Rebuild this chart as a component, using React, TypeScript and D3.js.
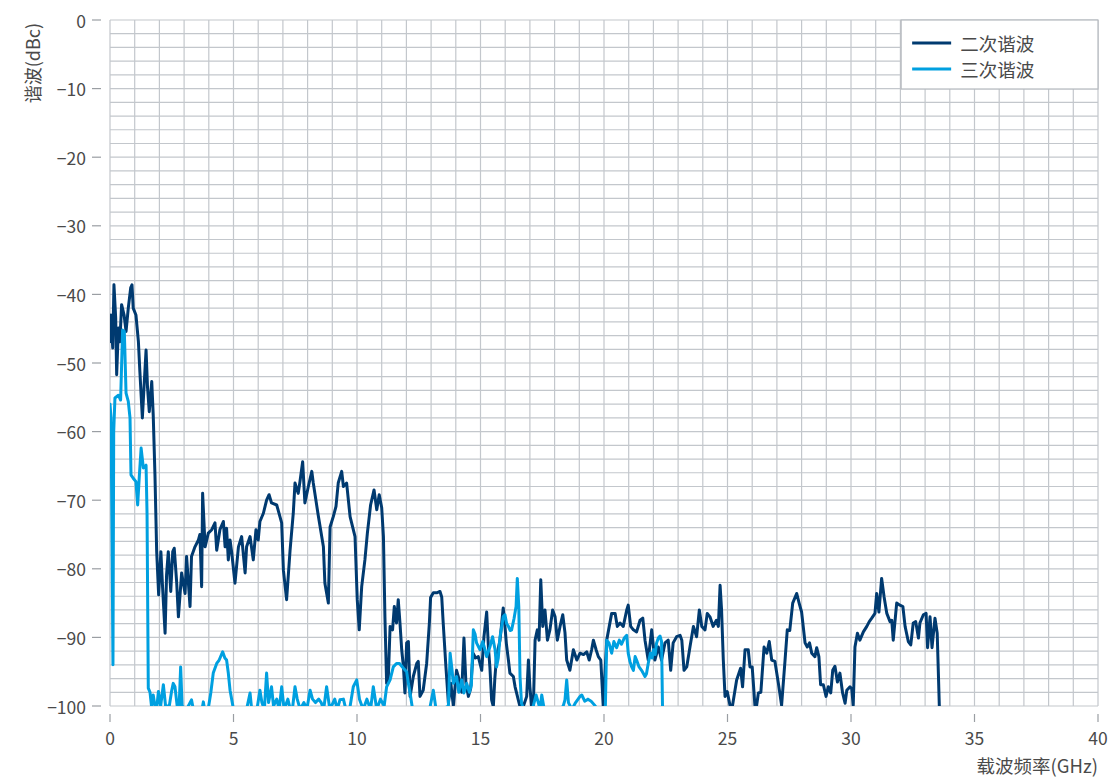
import React from "react";
import * as d3 from "d3";

// Second harmonic (二次谐波): carrier frequency in GHz and level in dBc
const secondFreq = [
  0.0, 0.04, 0.11, 0.16, 0.23, 0.27, 0.34, 0.4, 0.47, 0.57, 0.65, 0.74, 0.84, 0.89, 0.94, 1.05, 1.15, 1.21, 1.31, 1.39,
  1.46, 1.52, 1.59, 1.69, 1.75, 1.82, 1.89, 1.97, 2.06, 2.13, 2.23, 2.29, 2.36, 2.46, 2.54, 2.6, 2.7, 2.77, 2.9, 3.04,
  3.1, 3.24, 3.3, 3.44, 3.58, 3.64, 3.71, 3.75, 3.85, 3.98, 4.12, 4.25, 4.32, 4.45, 4.59, 4.66, 4.72, 4.79, 4.86, 4.93,
  5.06, 5.2, 5.33, 5.47, 5.53, 5.67, 5.8, 5.91, 6.0, 6.07, 6.21, 6.34, 6.44, 6.54, 6.75, 6.88, 6.95, 7.02, 7.15, 7.29,
  7.42, 7.49, 7.62, 7.69, 7.8, 7.89, 8.03, 8.17, 8.23, 8.43, 8.64, 8.7, 8.84, 8.91, 9.04, 9.15, 9.24, 9.38, 9.45, 9.58,
  9.72, 9.92, 10.01, 10.09, 10.19, 10.32, 10.42, 10.55, 10.69, 10.8, 10.9, 11.0, 11.07, 11.13, 11.2, 11.27, 11.34, 11.44, 11.51, 11.6,
  11.67, 11.74, 11.81, 11.88, 11.94, 12.01, 12.08, 12.15, 12.28, 12.42, 12.48, 12.55, 12.68, 12.82, 12.93, 12.98, 13.09, 13.23, 13.36, 13.43,
  13.49, 13.6, 13.7, 13.8, 13.9, 14.03, 14.14, 14.24, 14.33, 14.41, 14.51, 14.6, 14.7, 14.8, 14.91, 15.05, 15.14, 15.25, 15.32, 15.38,
  15.45, 15.52, 15.58, 15.65, 15.79, 15.92, 15.99, 16.05, 16.13, 16.19, 16.33, 16.4, 16.53, 16.6, 16.73, 16.87, 16.94, 17.0, 17.07, 17.14,
  17.21, 17.3, 17.37, 17.44, 17.52, 17.61, 17.71, 17.81, 17.92, 18.02, 18.11, 18.22, 18.33, 18.42, 18.49, 18.62, 18.76, 18.9, 19.03, 19.17,
  19.3, 19.4, 19.5, 19.57, 19.68, 19.77, 19.87, 19.97, 20.11, 20.31, 20.45, 20.54, 20.65, 20.78, 20.92, 20.98, 21.08, 21.19, 21.32, 21.46,
  21.57, 21.66, 21.79, 21.93, 22.06, 22.2, 22.33, 22.47, 22.6, 22.7, 22.8, 22.94, 23.08, 23.15, 23.24, 23.35, 23.48, 23.62, 23.75, 23.86,
  23.96, 24.09, 24.18, 24.29, 24.42, 24.55, 24.63, 24.7, 24.76, 24.83, 24.9, 24.99, 25.1, 25.2, 25.37, 25.53, 25.61, 25.71, 25.84, 25.91,
  26.0, 26.11, 26.18, 26.25, 26.35, 26.48, 26.59, 26.69, 26.79, 26.92, 27.06, 27.19, 27.33, 27.42, 27.52, 27.64, 27.8, 27.9, 28.0, 28.14,
  28.23, 28.32, 28.41, 28.54, 28.61, 28.7, 28.77, 28.88, 28.99, 29.08, 29.18, 29.26, 29.35, 29.45, 29.55, 29.66, 29.76, 29.83, 29.96, 30.03,
  30.09, 30.16, 30.26, 30.36, 30.5, 30.64, 30.74, 30.84, 30.97, 31.04, 31.13, 31.24, 31.34, 31.45, 31.58, 31.65, 31.71, 31.85, 31.98, 32.1,
  32.19, 32.32, 32.42, 32.52, 32.62, 32.73, 32.79, 32.93, 33.04, 33.1, 33.2, 33.28, 33.4, 33.49, 33.58,
];
const secondDb = [
  -46.9, -43, -47.8, -38.6, -43.4, -51.7, -44.9, -46.9, -41.5, -43, -45.4, -42, -39, -38.6, -42, -43, -46.9, -51.3, -58, -52.7,
  -48.1, -53.6, -57.1, -52.7, -57.6, -66.3, -77.5, -83.8, -77.5, -82.8, -89.4, -80.9, -77.5, -83.3, -77.5, -77, -82, -87, -80.6, -83.6,
  -78.2, -85.5, -78.2, -76.8, -75.8, -75, -82.6, -69, -76.8, -74.8, -74.3, -73.3, -77.3, -74.3, -73.1, -76.8, -74.1, -78.7, -75.8, -77.7,
  -82.1, -76.8, -75.3, -80.6, -76.8, -75.3, -78.7, -74.3, -75.8, -73.1, -71.9, -70, -69.2, -70.4, -70.7, -72.4, -73.3, -80.2, -84.5, -77.3,
  -71.9, -67.5, -69, -67.3, -64.4, -70.4, -68, -65.8, -67.5, -72.2, -76.8, -82.1, -85, -73.9, -72.4, -70.9, -67.5, -65.8, -68, -67.5,
  -72.4, -75.3, -84.5, -88.9, -82.6, -78.7, -74.8, -70.7, -68.5, -71.4, -69.2, -71.1, -75.3, -87, -96.7, -95.7, -88.4, -88.9, -85.5, -87.9,
  -84.5, -87.9, -91.8, -94.3, -98.1, -90.8, -90.6, -98.6, -95.7, -93.8, -93.5, -98.6, -97.7, -93.8, -87.9, -84.2, -83.5, -83.5, -83.3, -84.1,
  -87.9, -94.3, -99.6, -96.7, -100, -94.8, -96.2, -98, -90.1, -96.7, -98.6, -97.5, -92.3, -93, -92.8, -94.8, -89.9, -86.3, -91.4, -94.3,
  -99.1, -100.1, -96, -92.8, -90.4, -85.7, -88.4, -91, -93.3, -95.2, -95.7, -97.2, -99.1, -100.1, -100.1, -98.6, -93.3, -97.2, -100.1, -100.1,
  -90.4, -88.9, -90.4, -81.6, -88.4, -86, -90.4, -88.9, -86, -87, -90.4, -88.4, -86.7, -89.3, -93.3, -94.8, -91.8, -93.3, -92.3, -92.5,
  -92.1, -93.3, -91.8, -90.4, -91.8, -92.8, -93.3, -100.1, -90.4, -86.5, -86.5, -88.4, -87.9, -88.4, -86, -85.3, -88.4, -88.9, -89.2, -87.5,
  -87.2, -90.4, -93.3, -88.9, -93.3, -91.4, -93.3, -90.8, -90.4, -94.8, -90.8, -89.9, -89.7, -90.4, -94.8, -94.3, -91.4, -88.4, -89.9, -86,
  -88.4, -88.9, -86.5, -87, -88.4, -87.5, -88.4, -82.4, -86, -93.3, -98.6, -97.9, -99.9, -100, -96.2, -94.5, -97.2, -91.8, -91.8, -94.3,
  -94.3, -99.9, -99.9, -98.1, -98, -91.4, -92.3, -90.6, -93.3, -93.5, -96.7, -99.9, -93.3, -88.9, -89, -85, -83.6, -85, -86.3, -90.8,
  -91.4, -90.8, -92.3, -92.8, -91.5, -92.8, -96.9, -96.9, -98.6, -97.2, -98.1, -94.8, -94.2, -96.5, -95.2, -98.1, -99.6, -97.7, -97.2, -97.5,
  -99.9, -91.4, -89.4, -90.4, -89.2, -88.4, -87.7, -87.2, -86.5, -83.6, -86.3, -81.4, -84.1, -86.5, -87.7, -87.5, -90.4, -85, -85.3, -85.5,
  -88.4, -90.6, -91.1, -87.9, -87.7, -90.1, -87.9, -86.7, -86.5, -91.5, -87, -91.5, -87.2, -89.4, -100.5,
];

// Third harmonic (三次谐波)
const thirdFreq = [
  0.0, 0.04, 0.08, 0.12, 0.15, 0.2, 0.34, 0.43, 0.51, 0.58, 0.65, 0.74, 0.81, 0.85, 0.94, 1.05, 1.12, 1.19, 1.26, 1.35,
  1.46, 1.5, 1.55, 1.62, 1.68, 1.75, 1.82, 1.9, 1.96, 2.05, 2.16, 2.25, 2.4, 2.5, 2.56, 2.63, 2.72, 2.8, 2.86, 2.92,
  3.1, 3.3, 3.4, 3.7, 3.78, 3.85, 3.95, 4.08, 4.18, 4.32, 4.42, 4.56, 4.65, 4.72, 4.79, 4.86, 4.99, 5.2, 5.5, 5.67,
  5.75, 5.95, 6.07, 6.15, 6.25, 6.34, 6.42, 6.54, 6.62, 6.75, 6.85, 6.95, 7.05, 7.2, 7.3, 7.4, 7.49, 7.58, 7.7, 7.85,
  7.97, 8.1, 8.2, 8.32, 8.45, 8.55, 8.65, 8.77, 8.9, 9.1, 9.2, 9.31, 9.45, 9.55, 9.7, 9.85, 9.99, 10.1, 10.25, 10.4,
  10.55, 10.66, 10.8, 10.95, 11.1, 11.2, 11.34, 11.47, 11.6, 11.72, 11.88, 12.01, 12.08, 12.15, 12.25, 12.4, 12.6, 12.8, 12.95, 13.09,
  13.2, 13.35, 13.55, 13.7, 13.77, 13.84, 13.9, 14.03, 14.12, 14.24, 14.33, 14.44, 14.55, 14.63, 14.71, 14.78, 14.84, 14.98, 15.09, 15.18,
  15.25, 15.38, 15.49, 15.59, 15.65, 15.72, 15.79, 15.86, 15.92, 15.99, 16.06, 16.13, 16.2, 16.26, 16.36, 16.44, 16.49, 16.55, 16.6, 16.66,
  16.8, 16.95, 17.1, 17.25, 17.34, 17.41, 17.48, 17.58, 17.8, 18.05, 18.2, 18.35, 18.42, 18.49, 18.56, 18.7, 18.85, 19.03, 19.1, 19.22,
  19.35, 19.48, 19.6, 19.75, 19.95, 20.05, 20.11, 20.2, 20.31, 20.4, 20.51, 20.62, 20.71, 20.82, 20.92, 20.98, 21.05, 21.12, 21.19, 21.26,
  21.34, 21.42, 21.52, 21.6, 21.66, 21.72, 21.79, 21.88, 21.95, 22.0, 22.07, 22.13, 22.2, 22.27, 22.33, 22.37,
];
const thirdDb = [
  -56, -58, -74, -94, -60, -55.1, -54.7, -55.4, -45.2, -45.4, -54.4, -55.6, -58, -66.3, -66.8, -67.3, -70.7, -66.3, -62.4, -65.3,
  -64.9, -72, -97.4, -98, -100, -98.4, -100, -100, -97.9, -100, -96.9, -100, -100, -97.7, -96.7, -97.2, -100, -100, -94.3, -100,
  -100.5, -99.1, -101, -101, -99.4, -101, -101, -98.1, -95.2, -93.8, -93.3, -92.1, -93, -93.3, -95.2, -97.7, -100.3, -101, -101, -98.1,
  -101, -100.5, -97.7, -99.5, -100.5, -95.2, -99.5, -97.2, -100, -99, -100.5, -97.2, -100.5, -99, -100.5, -100, -97.2, -99, -100.5, -99.5,
  -100.5, -97.7, -99, -99.5, -99, -99.5, -100.5, -97.2, -100.5, -99, -100.5, -99.1, -99, -100.5, -100.5, -97.2, -96.2, -99, -100.5, -99,
  -100.5, -97.2, -100.5, -99, -100, -97.2, -96.2, -94.3, -93.8, -93.8, -94.5, -95, -96.7, -98.1, -100.5, -100.5, -101, -100.5, -100.3, -97.7,
  -100.5, -100.5, -100.3, -100, -92.3, -94.5, -96.7, -95.7, -98, -96.2, -98.1, -96.7, -98, -97, -88.9, -89.5, -90.8, -91.8, -90.6, -91.8,
  -92.8, -91.4, -89.9, -91.8, -94.3, -93, -89.9, -88.4, -87, -86.7, -88, -88.4, -89, -88.9, -87.2, -85.5, -81.4, -85.5, -95.7, -99.6,
  -101, -100.5, -100.5, -98.4, -99.5, -100.5, -98.4, -100.5, -101, -100.5, -100.5, -100, -99.1, -96.2, -99.5, -100.5, -99.5, -98.6, -98.4, -99.3,
  -99, -99.3, -99.8, -100.5, -101, -101, -90.4, -90.8, -92.3, -90.6, -91.5, -90.4, -91, -90.1, -89.7, -92.3, -93.5, -94.3, -94.8, -92.8,
  -93.5, -94.3, -94.8, -95.3, -95.7, -95.3, -93.8, -92.3, -93, -91.8, -92.5, -90.8, -90.1, -89.8, -90.6, -100.5,
];

const seriesNames = ["二次谐波", "三次谐波"];
const seriesColors = ["#003a70", "#00a0e0"];
const xTicks = [0, 5, 10, 15, 20, 25, 30, 35, 40];
const yTicks = [0, -10, -20, -30, -40, -50, -60, -70, -80, -90, -100];

const W = 1110;
const H = 778;
const margin = { left: 110, right: 12, top: 20, bottom: 72 };
const FONT = "'Noto Sans CJK SC', 'Noto Sans', sans-serif";

export default function App() {
  const x = d3.scaleLinear().domain([0, 40]).range([margin.left, W - margin.right]);
  const y = d3.scaleLinear().domain([-100, 0]).range([H - margin.bottom, margin.top]);
  const [x0, x1] = x.range();
  const [yb, yt] = y.range();

  const line = d3
    .line<[number, number]>()
    .x((d) => x(d[0]))
    .y((d) => y(d[1]));

  const second = secondFreq.map((f, i) => [f, secondDb[i]] as [number, number]);
  const third = thirdFreq.map((f, i) => [f, thirdDb[i]] as [number, number]);

  const vGrid = d3.range(0, 41, 1);
  const hGrid = d3.range(-100, 1, 2);
  const fmt = (v: number) => (v < 0 ? "\u2212" + Math.abs(v) : String(v));

  const legendX = x(32.03);
  const legendW = x1 - legendX;

  return (
    <div style={{ position: "absolute", left: 0, top: 0 }}>
      <svg width={W} height={H} style={{ display: "block", background: "#fff" }}>
        <defs>
          <clipPath id="plot-clip">
            <rect x={x0} y={yt} width={x1 - x0} height={yb - yt} />
          </clipPath>
        </defs>

        {/* grid */}
        <g stroke="#c3c7cc" strokeWidth={1.2}>
          {vGrid.map((g) => (
            <line key={"v" + g} x1={x(g)} x2={x(g)} y1={yt} y2={yb} />
          ))}
          {hGrid.map((g) => (
            <line key={"h" + g} x1={x0} x2={x1} y1={y(g)} y2={y(g)} />
          ))}
        </g>

        {/* axes: ticks, labels and titles */}
        <g fontFamily={FONT} fontSize={17.5} fill="#4a4a4a">
          {yTicks.map((t) => (
            <g key={"yt" + t}>
              <line x1={x0 - 18} x2={x0 - 9} y1={y(t)} y2={y(t)} stroke="#9a9ea3" strokeWidth={1.2} />
              <text x={x0 - 24} y={y(t)} textAnchor="end" dominantBaseline="central">
                {fmt(t)}
              </text>
            </g>
          ))}
          {xTicks.map((t) => (
            <g key={"xt" + t}>
              <line x1={x(t)} x2={x(t)} y1={yb + 8} y2={yb + 16} stroke="#9a9ea3" strokeWidth={1.2} />
              <text x={x(t)} y={yb + 39} textAnchor="middle">
                {t}
              </text>
            </g>
          ))}
          <text x={x1} y={H - 5} textAnchor="end" fontSize={18.5}>
            载波频率(GHz)
          </text>
          <text transform={`translate(40, ${yt + 3}) rotate(-90)`} textAnchor="end" fontSize={18}>
            谐波(dBc)
          </text>
        </g>

        {/* series */}
        <g clipPath="url(#plot-clip)" fill="none" strokeWidth={3} strokeLinejoin="round" strokeLinecap="round">
          <path d={line(second) || ""} stroke={seriesColors[0]} />
          <path d={line(third) || ""} stroke={seriesColors[1]} />
        </g>

        {/* legend */}
        <g fontFamily={FONT} fontSize={18.5} fill="#4a4a4a">
          <rect x={legendX} y={yt} width={legendW} height={69} fill="#fff" stroke="#b5b9be" strokeWidth={1.2} />
          {seriesNames.map((name, i) => (
            <g key={name}>
              <line
                x1={legendX + 11}
                x2={legendX + 50}
                y1={yt + 23 + i * 26}
                y2={yt + 23 + i * 26}
                stroke={seriesColors[i]}
                strokeWidth={3}
              />
              <text x={legendX + 59} y={yt + 23 + i * 26} dominantBaseline="central">
                {name}
              </text>
            </g>
          ))}
        </g>
      </svg>
    </div>
  );
}
